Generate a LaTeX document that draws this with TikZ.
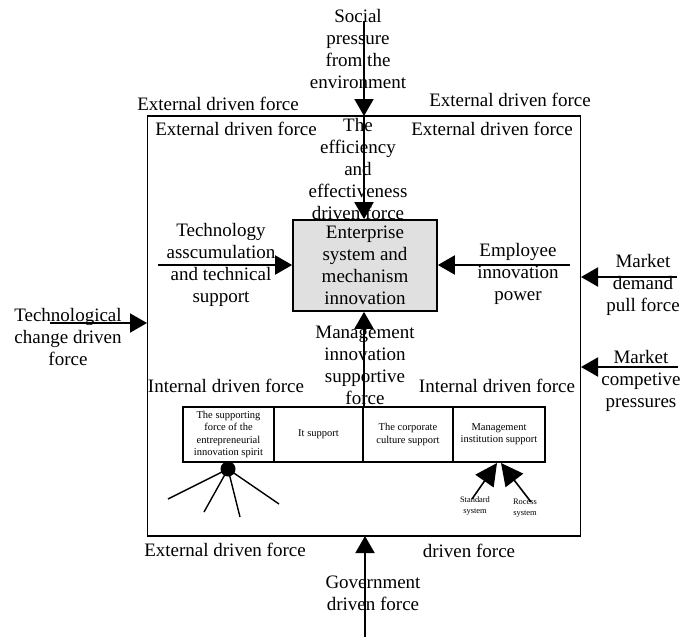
\documentclass[tikz,border=0pt]{standalone}
\usepackage{fontspec}
\setmainfont{Liberation Serif}
\usetikzlibrary{arrows.meta}
\tikzset{
  big/.style={font=\fontsize{19}{22}\selectfont, align=center, inner sep=0pt},
  cell/.style={draw, line width=1.8pt, minimum height=55pt, inner sep=0pt,
    font=\fontsize{10.5}{12.2}\selectfont, align=center},
  tiny/.style={font=\fontsize{8.4}{10.5}\selectfont, align=center, inner sep=0pt},
  force/.style={line width=2pt, -{Triangle[length=17pt,width=19pt]}},
  feed/.style={line width=1.6pt, -{Triangle[length=22pt,width=22pt]}},
  frame/.style={draw, line width=1.7pt},
}
\begin{document}
\begin{tikzpicture}[x=1pt,y=-1pt]
\useasboundingbox (0,0) rectangle (684,637);

% enclosing frame
\node[frame, minimum width=433pt, minimum height=420pt, inner sep=0pt] (frame) at (364,326) {};

% central box
\node[draw, line width=1.7pt, fill=black!12, minimum width=144pt, minimum height=91pt,
  big] (core) at (365,265.5) {Enterprise\\system and\\mechanism\\innovation};

% table of internal supports
\node[cell, minimum width=91pt] (c1) at (228.5,434.5) {The supporting\\force of the\\entrepreneurial\\innovation spirit};
\node[cell, minimum width=89pt] (c2) at (318.5,434.5) {It support};
\node[cell, minimum width=90pt] (c3) at (408,434.5) {The corporate\\culture support};
\node[cell, minimum width=92pt] (c4) at (499,434.5) {Management\\institution support};

% labels round the frame
\node[big] (eTL) at (218,104) {External driven force};
\node[big] (eTR) at (510,100) {External driven force};
\node[big] (iTL) at (236,129) {External driven force};
\node[big] (iTR) at (492,129) {External driven force};
\node[big] (inL) at (226,386) {Internal driven force};
\node[big] (inR) at (497,386) {Internal driven force};
\node[big] (eBL) at (225,550) {External driven force};
\node[big] (eBR) at (469,551) {driven force};

% force labels
\node[big] (social) at (358,49) {Social\\pressure\\from the\\environment};
\node[big] (eff) at (358,169) {The\\efficiency\\and\\effectiveness\\driven force};
\node[big] (tech) at (221,265) {Technology\\asscumulation\\and technical\\support};
\node[big] (empl) at (518,274) {Employee\\innovation\\power};
\node[big] (mgmt) at (365,365) {Management\\innovation\\supportive\\force};
\node[big] (techch) at (68,337) {Technological\\change driven\\force};
\node[big] (mdem) at (643,285) {Market\\demand\\pull force};
\node[big] (mcomp) at (641,381) {Market\\competive\\pressures};
\node[big] (gov) at (373,593) {Government\\driven force};

% free ends of the connectors
\coordinate (sTop) at (364,21);
\coordinate (fTop) at (364,116);
\coordinate (tLeft) at (158,265);
\coordinate (eRight) at (570,265);
\coordinate (tcL) at (50,323);
\coordinate (fL) at (147,323);
\coordinate (mdR) at (677,277);
\coordinate (mdL) at (581,277);
\coordinate (mcR) at (678,367);
\coordinate (mcL) at (581,367);
\coordinate (gBot) at (365,637);
\coordinate (fBot) at (365,536);
\coordinate (tTop) at (364,407);

% connectors
\draw[force] (sTop) -- (fTop);
\draw[force] (fTop) -- (core.north -| fTop);
\draw[force] (tLeft) -- (core.west |- tLeft);
\draw[force] (eRight) -- (core.east |- eRight);
\draw[force] (tTop) -- (core.south -| tTop);
\draw[force] (tcL) -- (fL);
\draw[force] (mdR) -- (mdL);
\draw[force] (mcR) -- (mcL);
\draw[force] (gBot) -- (fBot);

% spirit hub with its spokes
\node[circle, fill=black, minimum size=15pt, inner sep=0pt] (dot) at (228,469) {};
\coordinate (sp1) at (168,499);
\coordinate (sp2) at (204,512);
\coordinate (sp3) at (240,517);
\coordinate (sp4) at (279,504);
\foreach \s in {sp1,sp2,sp3,sp4} \draw[line width=1.4pt] (dot.center) -- (\s);

% systems feeding the institution support
\node[tiny] (std) at (475,506) {Standard\\system};
\node[tiny] (roc) at (525,508) {Rocess\\system};
\coordinate (stdTail) at (472,499);
\coordinate (rocTail) at (531,502);
\coordinate (tipL) at (497,463);
\coordinate (tipR) at (501,463);
\draw[feed] (stdTail) -- (tipL);
\draw[feed] (rocTail) -- (tipR);
\end{tikzpicture}
\end{document}
